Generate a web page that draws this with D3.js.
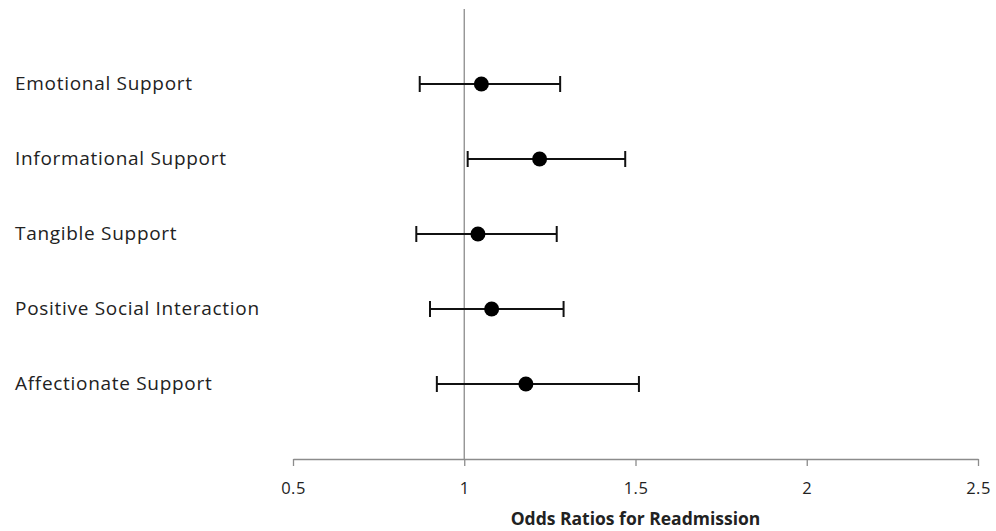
<!DOCTYPE html>
<html>
<head>
    <meta charset="utf-8">
    <title>Odds Ratios</title>
    <script src="https://d3js.org/d3.v7.min.js"></script>
    <style>
      body { margin: 0; background: #fff; }
      text { font-family: "Open Sans", "Noto Sans", sans-serif; }
    </style>
</head>
<body>
<script type="text/javascript">
    // categories top to bottom
    var categories = ['Emotional Support', 'Informational Support', 'Tangible Support',
                      'Positive Social Interaction', 'Affectionate Support'];
    var oddsRatio = [1.05, 1.22, 1.04, 1.08, 1.18];
    var lowerCI   = [0.87, 1.01, 0.86, 0.90, 0.92];
    var upperCI   = [1.28, 1.47, 1.27, 1.29, 1.51];
    var xTicks = [0.5, 1, 1.5, 2, 2.5];

    var width = 996, height = 531;

    var svg = d3.select('body')
      .append('svg')
        .attr('width', width)
        .attr('height', height);

    var x = d3.scaleLinear()
      .domain([0.5, 2.5])
      .range([293, 978]);

    // rows sit at 5..1 on a 0..6 vertical axis
    var y = d3.scaleLinear()
      .domain([0, 6])
      .range([459, 9]);

    var rows = categories.map(function(c, i) {
      return { name: c, or: oddsRatio[i], lo: lowerCI[i], hi: upperCI[i], pos: categories.length - i };
    });

    // x axis
    var xAxis = d3.axisBottom(x)
      .tickValues(xTicks)
      .tickFormat(function(d) { return d; })
      .tickSize(7)
      .tickSizeOuter(0);

    var gx = svg.append('g')
      .attr('transform', 'translate(0,' + y(0) + ')')
      .call(xAxis);
    gx.select('.domain').attr('stroke', '#8c8c8c').attr('stroke-width', 1.3);
    gx.selectAll('.tick line').attr('stroke', '#8c8c8c').attr('stroke-width', 1.3);
    gx.selectAll('.tick text')
      .attr('fill', '#222')
      .attr('font-size', 16.5)
      .attr('letter-spacing', 0.5)
      .attr('y', 29)
      .attr('dy', '0.35em');

    svg.append('text')
      .attr('x', x(1.5))
      .attr('y', 525)
      .attr('text-anchor', 'middle')
      .attr('font-size', 17.5)
      .attr('font-weight', 'bold')
      .attr('fill', '#222')
      .text('Odds Ratios for Readmission');

    // reference line at OR = 1
    svg.append('line')
      .attr('x1', x(1)).attr('x2', x(1))
      .attr('y1', y(6)).attr('y2', y(0))
      .attr('stroke', '#8c8c8c')
      .attr('stroke-width', 1.3);

    // category labels
    svg.append('g')
      .selectAll('text')
      .data(rows)
      .enter()
        .append('text')
          .attr('x', 15)
          .attr('y', function(d) { return y(d.pos); })
          .attr('dy', '0.33em')
          .attr('font-size', 19)
          .attr('letter-spacing', 0.7)
          .attr('fill', '#222')
          .text(function(d) { return d.name; });

    var bars = svg.append('g')
      .selectAll('g')
      .data(rows)
      .enter()
        .append('g');

    bars.append('line')
      .attr('x1', function(d) { return x(d.lo); })
      .attr('x2', function(d) { return x(d.hi); })
      .attr('y1', function(d) { return y(d.pos); })
      .attr('y2', function(d) { return y(d.pos); })
      .attr('stroke', '#111')
      .attr('stroke-width', 2);

    bars.selectAll('line.cap')
      .data(function(d) { return [d.lo, d.hi].map(function(v) { return { v: v, pos: d.pos }; }); })
      .enter()
        .append('line')
          .attr('class', 'cap')
          .attr('x1', function(d) { return x(d.v); })
          .attr('x2', function(d) { return x(d.v); })
          .attr('y1', function(d) { return y(d.pos) - 8; })
          .attr('y2', function(d) { return y(d.pos) + 8; })
          .attr('stroke', '#111')
          .attr('stroke-width', 2);

    bars.append('circle')
      .attr('cx', function(d) { return x(d.or); })
      .attr('cy', function(d) { return y(d.pos); })
      .attr('r', 7.5)
      .attr('fill', '#000');
</script>
</body>
</html>
